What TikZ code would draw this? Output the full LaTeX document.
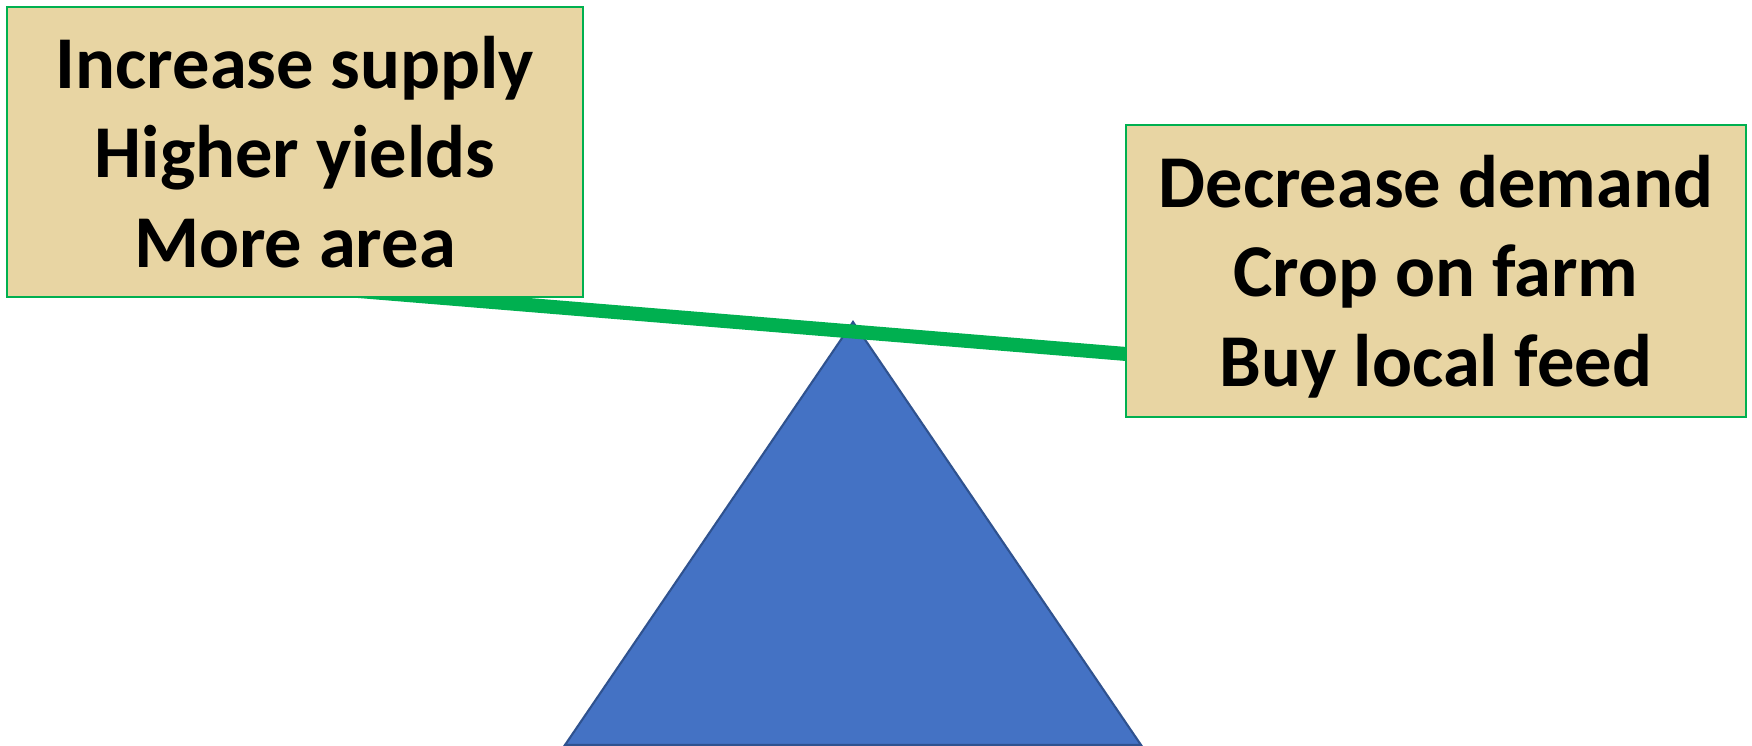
\documentclass[tikz,border=0pt]{standalone}
\usepackage{fontspec}
\setmainfont{Carlito}
\usepackage{tikz}
\usepackage{xcolor}
\definecolor{beamgreen}{RGB}{0,176,80}
\definecolor{papyrus}{RGB}{232,213,163}
\definecolor{fulcrumblue}{RGB}{68,114,196}
\definecolor{fulcrumedge}{RGB}{47,82,143}
\tikzset{
  papyrusbox/.style={draw=beamgreen, line width=0.5pt, fill=papyrus,
    align=center, inner sep=0pt,
    font=\fontsize{21.2}{25.5}\selectfont\bfseries},
  beam/.style={beamgreen, line width=0.14cm},
  fulcrum/.style={fill=fulcrumblue, draw=fulcrumedge, line width=0.6pt}
}

\begin{document}
\begin{tikzpicture}
    \useasboundingbox (0, 0) rectangle (17.52, 7.46);
    % fulcrum and beam
    \draw[fulcrum] (5.65, 0.01) -- (8.53, 4.24) -- (11.41, 0.01) -- cycle;
    \coordinate (beamleft) at (3.46, 4.56);
    \coordinate (beamright) at (11.26, 3.92);
    \draw[beam] (beamleft) -- (beamright);
    % the two pans
    \node[papyrusbox, minimum width=5.76cm, minimum height=2.90cm] (supply)
      at (2.95, 5.94) {Increase supply\\Higher yields\\More area};
    \node[papyrusbox, minimum width=6.20cm, minimum height=2.92cm] (demand)
      at (14.36, 4.75) {Decrease demand\\Crop on farm\\Bu\smash{y} local feed};
  \end{tikzpicture}
\end{document}
